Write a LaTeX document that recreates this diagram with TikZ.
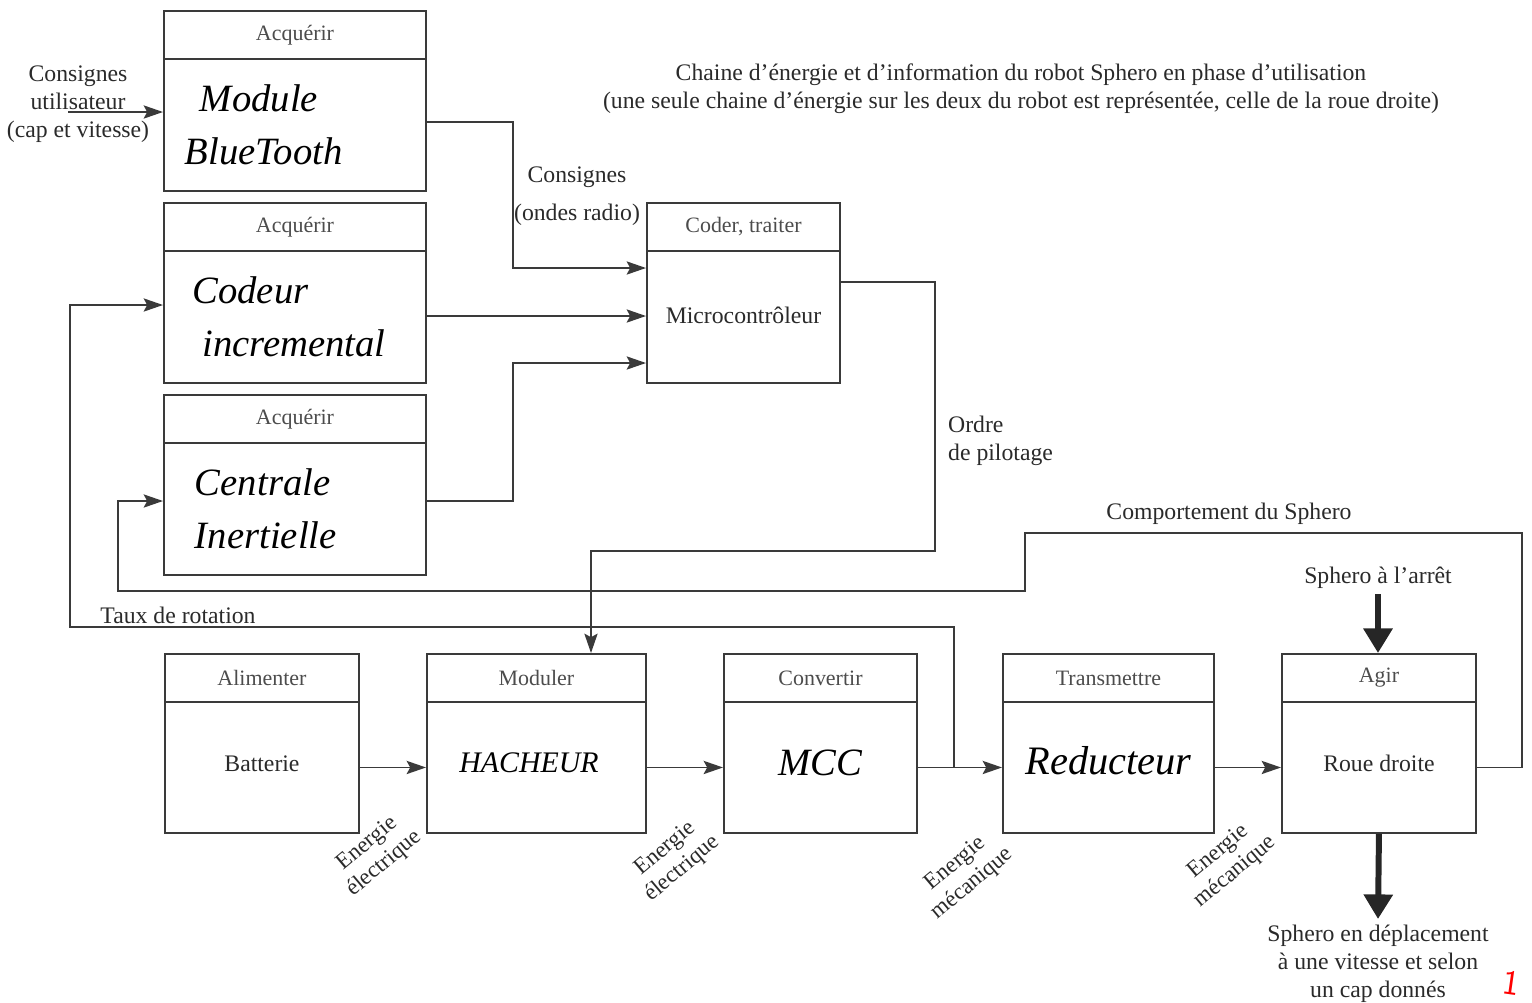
\documentclass[tikz,border=0pt]{standalone}
\usepackage{fontspec}
\setmainfont{Liberation Serif}
\usetikzlibrary{arrows.meta}
\definecolor{ln}{HTML}{3A3A3A}
\definecolor{tx}{HTML}{2A2A2A}
\newcommand\handf[1][22]{\fontsize{#1}{34}\selectfont\itshape\color{black}}
\newcommand\FBlock[8]{%
  \node[hbox, anchor=north west, minimum width={(#4-#2)*0.02cm}, minimum height={(#5-#3)*0.02cm}] (#1h) at (#2,#3) {#7};
  \node[bbox, anchor=north west, minimum width={(#4-#2)*0.02cm}, minimum height={(#6-#5)*0.02cm}] (#1) at (#2,#5) {#8};
}
\begin{document}
\begin{tikzpicture}[x=0.02cm,y=-0.02cm,
  every node/.style={text=tx, font=\fontsize{13.5}{16}\selectfont},
  hbox/.style={draw=ln, line width=1.1pt, inner sep=0pt, rectangle, text=black!70, font=\fontsize{12.5}{14}\selectfont},
  bbox/.style={draw=ln, line width=1.1pt, inner sep=0pt, rectangle},
  lbl/.style={align=center},
  conn/.style={draw=ln, line width=1.1pt},
  arr/.style={conn, -{Stealth[length=11pt,width=7.5pt,inset=2pt]}},
  bigarr/.style={draw=black!85, line width=3.4pt, -{Triangle[length=14pt,width=16pt]}},
  rot/.style={align=center, rotate=40, inner sep=0pt, font=\fontsize{13}{15}\selectfont}
]
\useasboundingbox (0,0) rectangle (1532,1002);

% information chain blocks
\FBlock{acqa}{163}{10}{425}{58}{190}{Acquérir}{\parbox{4.8cm}{\raggedright\handf\hspace*{0.5cm}Module\\[-4pt]\hspace*{0.2cm}BlueTooth}}
\FBlock{acqb}{163}{202}{425}{250}{382}{Acquérir}{\parbox{4.8cm}{\raggedright\handf\hspace*{0.35cm}Codeur\\[-4pt]\hspace*{0.55cm}incremental}}
\FBlock{acqc}{163}{394}{425}{442}{574}{Acquérir}{\parbox{4.8cm}{\raggedright\handf\hspace*{0.4cm}Centrale\\[-4pt]\hspace*{0.4cm}Inertielle}}
\FBlock{coder}{646}{202}{839}{250}{382}{Coder, traiter}{\raisebox{0.08cm}{Microcontrôleur}}

% energy chain blocks
\FBlock{batt}{164}{653}{358}{701}{832}{Alimenter}{\raisebox{0.16cm}{Batterie}}
\FBlock{modu}{426}{653}{645}{701}{832}{Moduler}{\raisebox{0.2cm}{\handf[17]HACHEUR\hspace*{0.3cm}}}
\FBlock{conv}{723}{653}{916}{701}{832}{Convertir}{\raisebox{0.18cm}{\handf MCC}}
\FBlock{trans}{1002}{653}{1213}{701}{832}{Transmettre}{\raisebox{0.28cm}{\handf[23]Reducteur}}
\FBlock{agir}{1281}{653}{1475}{701}{832}{Agir}{\raisebox{0.16cm}{Roue droite}}

% texts
\node[lbl] (title) at (1021,89) {Chaine d’énergie et d’information du robot Sphero en phase d’utilisation\\(une seule chaine d’énergie sur les deux du robot est représentée, celle de la roue droite)};
\node[lbl] (cons) at (78,104) {Consignes\\utilisateur\\(cap et vitesse)};
\node[lbl] (radio) at (577,196) {Consignes\\[6pt](ondes radio)};
\node[align=left, anchor=west] (ordre) at (942,441) {Ordre\\de pilotage};
\node (taux) at (178,615) {Taux de rotation};
\node (comp) at (1229,514) {Comportement du Sphero};
\node (arret) at (1378,578) {Sphero à l’arrêt};
\node[lbl, anchor=north] (depl) at (1378,919) {Sphero en déplacement\\à une vitesse et selon\\un cap donnés};
\node[rot] (e1) at (376,854) {Energie\\électrique};
\node[rot] (e2) at (674,859) {Energie\\électrique};
\node[rot] (e3) at (964,874) {Energie\\mécanique};
\node[rot] (e4) at (1227,862) {Energie\\mécanique};
\node[text=red, inner sep=0pt, rotate=-8, font=\fontsize{20}{20}\selectfont\sffamily] (one) at (1511,983) {1};

% information connectors
\coordinate (cuin) at (68,112);
\draw[arr] (cuin) -- (acqa.west |- cuin);
\draw[arr] (acqa.east |- 0,122) -- (513,122) -- (513,268) -- (coder.west |- 0,268);
\draw[arr] (acqb.east |- 0,316) -- (coder.west |- 0,316);
\draw[arr] (acqc.east |- 0,501) -- (513,501) -- (513,363) -- (coder.west |- 0,363);
\draw[arr] (coder.east |- 0,282) -- (935,282) -- (935,551) -- (591,551) -- (591,0 |- moduh.north);

% energy connectors
\draw[arr] (batt.east) -- (modu.west);
\draw[arr] (modu.east) -- (conv.west);
\draw[arr] (conv.east) -- (trans.west);
\draw[arr] (trans.east) -- (agir.west);

% feedback
\coordinate (jt) at (954,0 |- conv.east);
\draw[arr] (jt) -- (954,627) -- (70,627) -- (70,305) -- (acqb.west |- 0,305);
\draw[arr] (agir.east) -- (1522,0 |- agir.east) -- (1522,533) -- (1025,533) -- (1025,591) -- (118,591) -- (118,501) -- (acqc.west |- 0,501);

% thick arrows
\draw[bigarr] (1378,594) -- (1378,0 |- agirh.north);
\draw[bigarr] (agir.south) -- (depl.north);
\end{tikzpicture}
\end{document}
